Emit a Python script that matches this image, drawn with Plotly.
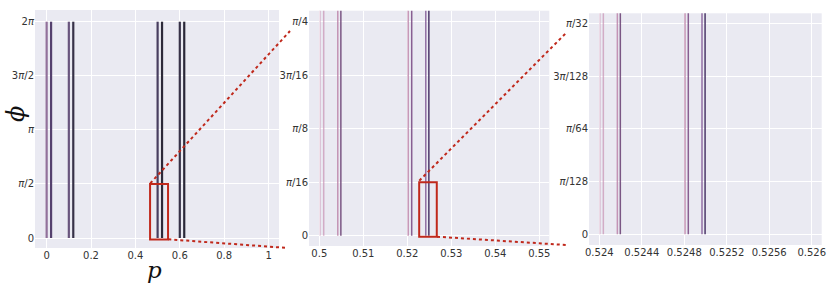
import math
import plotly.graph_objects as go

# ---------------- data ----------------
PHI_RANGE = [0.0, 2 * math.pi]  # each vertical line spans phi in [0, 2pi]

p_panel1 = [0.0, 0.02, 0.10, 0.12, 0.50, 0.52, 0.60, 0.62]
p_panel2 = [0.5002, 0.5010, 0.5042, 0.5049, 0.5202, 0.5210, 0.5242, 0.5249]
p_panel3 = [0.524007, 0.524038, 0.524170, 0.524198, 0.524807, 0.524838, 0.524967, 0.524996]

xticks1 = [0, 0.2, 0.4, 0.6, 0.8, 1.0]
xtick_text1 = ["0", "0.2", "0.4", "0.6", "0.8", "1"]
xticks2 = [0.50, 0.51, 0.52, 0.53, 0.54, 0.55]
xtick_text2 = ["0.5", "0.51", "0.52", "0.53", "0.54", "0.55"]
xticks3 = [0.524, 0.5244, 0.5248, 0.5252, 0.5256, 0.526]
xtick_text3 = ["0.524", "0.5244", "0.5248", "0.5252", "0.5256", "0.526"]

yticks1 = [0, math.pi / 2, math.pi, 3 * math.pi / 2, 2 * math.pi]
ytick_text1 = ["0", "<i>π</i>/2", "<i>π</i>", "3<i>π</i>/2", "2<i>π</i>"]
yticks2 = [0, math.pi / 16, math.pi / 8, 3 * math.pi / 16, math.pi / 4]
ytick_text2 = ["0", "<i>π</i>/16", "<i>π</i>/8", "3<i>π</i>/16", "<i>π</i>/4"]
yticks3 = [0, math.pi / 128, math.pi / 64, 3 * math.pi / 128, math.pi / 32]
ytick_text3 = ["0", "<i>π</i>/128", "<i>π</i>/64", "3<i>π</i>/128", "<i>π</i>/32"]

# zoom boxes (data coords)
box1_x = [0.466, 0.547]
box1_y = [-0.04, math.pi / 2]
box2_x = [0.5227, 0.5267]
box2_y = [-0.004, math.pi / 16]

# ---------------- styles ----------------
colors1 = ["rgba(140,105,150,0.95)", "rgba(85,65,110,1)", "rgba(105,85,125,1)", "rgba(55,50,72,1)",
           "rgba(72,62,95,1)", "rgba(45,42,58,1)", "rgba(55,50,72,1)", "rgba(42,40,56,1)"]
colors_zoom = ["rgba(205,160,190,0.55)", "rgba(200,145,180,0.7)", "rgba(185,125,165,0.8)",
               "rgba(110,70,120,0.9)", "rgba(185,125,165,0.8)", "rgba(125,80,135,0.9)",
               "rgba(130,90,150,0.85)", "rgba(75,55,105,1)"]

W, H = 830, 286
BG = "#EAEAF2"
TXT = "#333333"
RED = "#c0291c"
FONT = "DejaVu Sans"


def px(x):
    return x / W


def py(y):
    return 1 - y / H


fig = go.Figure()


def add_lines(ps, cols, width, xa, ya):
    for p, c in zip(ps, cols):
        fig.add_trace(go.Scatter(x=[p, p], y=PHI_RANGE, mode="lines",
                                 line=dict(color=c, width=width),
                                 xaxis=xa, yaxis=ya, showlegend=False, hoverinfo="skip"))


add_lines(p_panel1, colors1, 2.2, "x", "y")
add_lines(p_panel2, colors_zoom, 1.5, "x2", "y2")
add_lines(p_panel3, colors_zoom, 1.5, "x3", "y3")


def ax(domain, rng, tv, tt, anchor):
    return dict(domain=domain, range=rng, tickvals=tv, ticktext=tt, anchor=anchor,
                automargin=False,
                showgrid=True, gridcolor="white", gridwidth=1, zeroline=False,
                showline=False, ticks="", tickfont=dict(family=FONT, size=10, color=TXT))


fig.update_layout(
    width=W, height=H,
    margin=dict(l=0, r=0, t=0, b=0, autoexpand=False),
    paper_bgcolor="white",
    plot_bgcolor=BG,
    xaxis=ax([px(35), px(279)], [-0.0525, 1.047], xticks1, xtick_text1, "y"),
    yaxis=ax([py(248), py(10)], [-0.0462 * 2 * math.pi, 1.0541 * 2 * math.pi], yticks1, ytick_text1, "x"),
    xaxis2=ax([px(309), px(549.3)], [0.49766, 0.55227], xticks2, xtick_text2, "y2"),
    yaxis2=ax([py(246), py(10.7)], [-0.048 * math.pi / 4, 1.0514 * math.pi / 4], yticks2, ytick_text2, "x2"),
    xaxis3=ax([px(589), px(821.7)], [0.523903, 0.526094], xticks3, xtick_text3, "y3"),
    yaxis3=ax([py(245), py(13.3)], [-0.0507 * math.pi / 32, 1.0474 * math.pi / 32], yticks3, ytick_text3, "x3"),
)

shapes = []
shapes.append(dict(type="rect", xref="x", yref="y", x0=box1_x[0], x1=box1_x[1], y0=box1_y[0], y1=box1_y[1],
                   line=dict(color=RED, width=2)))
shapes.append(dict(type="rect", xref="x2", yref="y2", x0=box2_x[0], x1=box2_x[1], y0=box2_y[0], y1=box2_y[1],
                   line=dict(color=RED, width=2)))
# connectors (paper coordinates)
for (x0, y0, x1, y1) in [(150.3, 183.3, 290, 31), (168.3, 239.3, 288, 248),
                         (419.3, 180.7, 566, 33), (437, 236.7, 566, 245)]:
    shapes.append(dict(type="line", xref="paper", yref="paper", x0=px(x0), y0=py(y0), x1=px(x1), y1=py(y1),
                       line=dict(color=RED, width=2, dash="dot")))
fig.update_layout(shapes=shapes)

fig.add_annotation(text="<i>ϕ</i>", xref="paper", yref="paper", x=px(16), y=py(114),
                   xanchor="center", yanchor="middle",
                   showarrow=False, textangle=-90, font=dict(family="DejaVu Serif", size=24, color="#111"))
fig.add_annotation(text="<i>p</i>", xref="paper", yref="paper", x=px(154), y=py(285),
                   xanchor="center", yanchor="bottom",
                   showarrow=False, font=dict(family="DejaVu Serif", size=23, color="#111"))

fig.write_html("out.html", config={"displayModeBar": False},
               post_script="document.body.style.margin='0';document.body.style.overflow='hidden';")
